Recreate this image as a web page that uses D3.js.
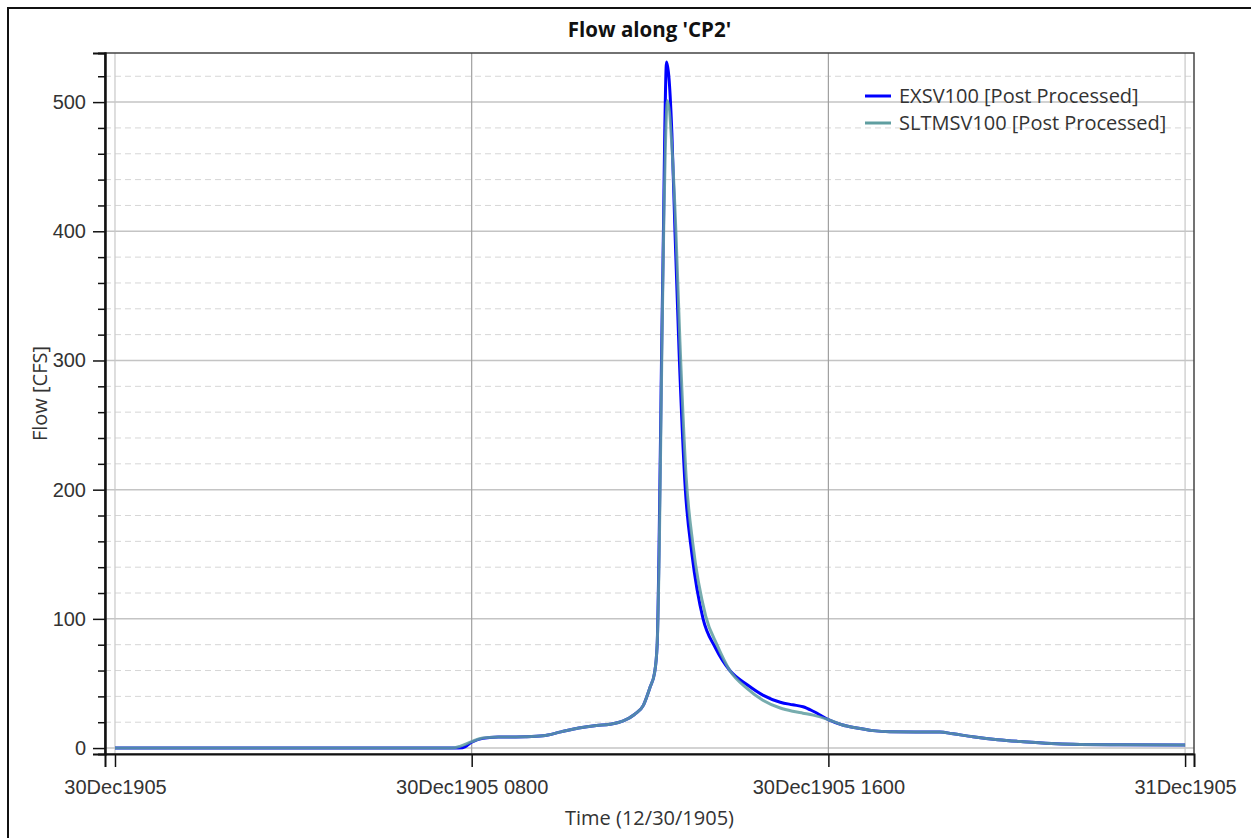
<!DOCTYPE html>
<html>
<head>
<meta charset="utf-8">
<script src="https://cdn.jsdelivr.net/npm/d3@7"></script>
<style>
  body { margin: 0; background: #fff; }
  svg { display: block; font-family: "Segoe UI", "Open Sans", "Noto Sans", sans-serif; }
</style>
</head>
<body>
<svg id="chart" width="1251" height="838"></svg>
<script>
// hours after 30Dec1905 0000
var seriesNames = ["EXSV100 [Post Processed]", "SLTMSV100 [Post Processed]"];
var seriesColors = ["#0000ff", "#5f9ea0"];

var exsvHours = [0, 7.6, 7.8, 8.0, 8.25, 8.6, 9.2, 9.6, 10.0, 10.4, 10.8, 11.1, 11.4, 11.65, 11.85, 12.0, 12.1, 12.16, 12.2, 12.26, 12.3, 12.33, 12.37, 12.49, 12.56, 12.65, 12.79, 12.94, 13.19, 13.46, 13.79, 14.18, 14.53, 14.92, 15.2, 15.43, 15.66, 16.0, 16.3, 16.64, 17.0, 17.38, 18.0, 18.5, 18.8, 19.24, 19.8, 20.37, 21.0, 21.49, 22.5, 24];
var exsvFlow = [0, 0, 0.3, 4.5, 7.5, 8.5, 8.8, 9.5, 12.5, 15.5, 17.5, 18.5, 21, 26, 33, 47, 58, 80, 150, 308, 399, 476, 531, 476, 399, 308, 201, 150, 100, 78, 60, 49, 41, 35.5, 33.5, 32, 28.5, 22, 18, 15.5, 13.5, 12.6, 12.4, 12.4, 11, 8.8, 6.5, 4.9, 3.5, 2.9, 2.5, 2.3];

var sltmHours = [0, 7.55, 7.75, 8.0, 8.25, 8.6, 9.2, 9.6, 10.0, 10.4, 10.8, 11.1, 11.4, 11.65, 11.85, 12.0, 12.1, 12.16, 12.21, 12.27, 12.31, 12.34, 12.39, 12.5, 12.58, 12.67, 12.81, 12.96, 13.25, 13.5, 13.79, 14.18, 14.53, 14.92, 15.2, 15.43, 15.66, 16.0, 16.3, 16.64, 17.0, 17.38, 18.0, 18.5, 18.8, 19.24, 19.8, 20.37, 21.0, 21.49, 22.5, 24];
var sltmFlow = [0, 0, 1.5, 5, 7.8, 8.5, 8.8, 9.5, 12.5, 15.5, 17.5, 18.5, 21, 26, 33, 47, 58, 80, 160, 320, 410, 460, 501, 460, 400, 315, 210, 158, 102, 80, 60, 46, 37, 31, 28.5, 27, 25.5, 22, 18, 15.5, 13.5, 12.6, 12.4, 12.4, 11, 8.8, 6.5, 4.9, 3.5, 2.9, 2.5, 2.3];

var xTickHours = [0, 8, 16, 24];
var xTickLabels = ["30Dec1905", "30Dec1905 0800", "30Dec1905 1600", "31Dec1905"];
var yMajorTicks = [0, 100, 200, 300, 400, 500];
var yMinorTicks = d3.range(0, 540, 20).filter(function (v) { return v % 100 !== 0; });

var svg = d3.select("#chart"),
    plot = { left: 105, top: 53, right: 1194, bottom: 754 },
    textColor = "#333",
    fontSize = "20px";

// outer frame (runs off the right/bottom edge)
svg.append("rect")
    .attr("x", 8).attr("y", 8)
    .attr("width", 1300).attr("height", 900)
    .attr("fill", "none").attr("stroke", "#111").attr("stroke-width", 2);

var x = d3.scaleLinear()
    .domain([-0.224, 24.2])
    .range([plot.left, plot.right]);

var y = d3.scaleLinear()
    .domain([-4.6, 538])
    .range([plot.bottom, plot.top]);

// grid
var grid = svg.append("g");
grid.selectAll("line.minor")
    .data(yMinorTicks)
    .enter().append("line")
    .attr("class", "minor")
    .attr("x1", plot.left).attr("x2", plot.right)
    .attr("y1", function (d) { return y(d); })
    .attr("y2", function (d) { return y(d); })
    .attr("stroke", "#d6d6d6").attr("stroke-dasharray", "6,4");

grid.selectAll("line.major")
    .data(yMajorTicks)
    .enter().append("line")
    .attr("class", "major")
    .attr("x1", plot.left).attr("x2", plot.right)
    .attr("y1", function (d) { return y(d); })
    .attr("y2", function (d) { return y(d); })
    .attr("stroke", "#c4c4c4").attr("stroke-width", 1.5);

grid.selectAll("line.vert")
    .data(xTickHours)
    .enter().append("line")
    .attr("class", "vert")
    .attr("x1", function (d) { return x(d); })
    .attr("x2", function (d) { return x(d); })
    .attr("y1", plot.top).attr("y2", plot.bottom)
    .attr("stroke", function (d, i) { return (i === 0 || i === xTickHours.length - 1) ? "#c8c8c8" : "#a0a0a0"; })
    .attr("stroke-width", 1.2);

// series
var line = d3.line()
    .x(function (d) { return x(d[0]); })
    .y(function (d) { return y(d[1]); })
    .curve(d3.curveMonotoneX);

var series = [d3.zip(exsvHours, exsvFlow), d3.zip(sltmHours, sltmFlow)];

series.forEach(function (pts, i) {
    svg.append("path")
        .datum(pts)
        .attr("d", line)
        .attr("fill", "none")
        .attr("stroke", seriesColors[i])
        .attr("stroke-width", 3)
        .attr("stroke-opacity", i === 1 ? 0.85 : 1)
        .attr("stroke-linejoin", "round");
});

// plot frame
svg.append("rect")
    .attr("x", plot.left).attr("y", plot.top)
    .attr("width", plot.right - plot.left)
    .attr("height", plot.bottom - plot.top)
    .attr("fill", "none").attr("stroke", "#444").attr("stroke-width", 1.5);

// y axis
var yAxisMajor = d3.axisLeft(y).tickValues(yMajorTicks).tickSize(12).tickPadding(7);
var yAxisMinor = d3.axisLeft(y).tickValues(yMinorTicks).tickSize(7).tickFormat("");

var gyMinor = svg.append("g").attr("transform", "translate(" + plot.left + ",0)").call(yAxisMinor);
var gy = svg.append("g").attr("transform", "translate(" + plot.left + ",0)").call(yAxisMajor);
[gy, gyMinor].forEach(function (g) {
    g.select(".domain").attr("stroke", "#111").attr("stroke-width", 2);
    g.selectAll(".tick line").attr("stroke", "#111").attr("stroke-width", 1.5);
});
gy.selectAll(".tick text")
    .attr("fill", textColor)
    .style("font-size", fontSize);

// x axis
var xAxis = d3.axisBottom(x)
    .tickValues(xTickHours)
    .tickFormat(function (d, i) { return xTickLabels[i]; })
    .tickSize(13).tickPadding(13);

var gx = svg.append("g").attr("transform", "translate(0," + plot.bottom + ")").call(xAxis);
gx.select(".domain").attr("stroke", "#111").attr("stroke-width", 2);
gx.selectAll(".tick line").attr("stroke", "#111").attr("stroke-width", 1.5);
gx.selectAll(".tick text")
    .attr("fill", textColor)
    .style("font-size", fontSize);

// titles
svg.append("text")
    .attr("x", (plot.left + plot.right) / 2).attr("y", 37)
    .attr("text-anchor", "middle")
    .attr("font-weight", "bold")
    .attr("fill", "#111")
    .style("font-size", "20.5px")
    .text("Flow along 'CP2'");

svg.append("text")
    .attr("x", (plot.left + plot.right) / 2).attr("y", 825)
    .attr("text-anchor", "middle")
    .attr("fill", textColor)
    .style("font-size", fontSize)
    .text("Time (12/30/1905)");

svg.append("text")
    .attr("transform", "translate(47," + ((plot.top + plot.bottom) / 2 - 10) + ") rotate(-90)")
    .attr("text-anchor", "middle")
    .attr("fill", textColor)
    .style("font-size", fontSize)
    .text("Flow [CFS]");

// legend
var legend = svg.append("g").attr("transform", "translate(865,96)");
seriesNames.forEach(function (name, i) {
    var g = legend.append("g").attr("transform", "translate(0," + (i * 27) + ")");
    g.append("line")
        .attr("x1", 0).attr("x2", 26)
        .attr("stroke", seriesColors[i]).attr("stroke-width", 3);
    g.append("text")
        .attr("x", 34).attr("dy", "0.35em")
        .attr("fill", textColor)
        .style("font-size", fontSize)
        .text(name);
});
</script>
</body>
</html>
